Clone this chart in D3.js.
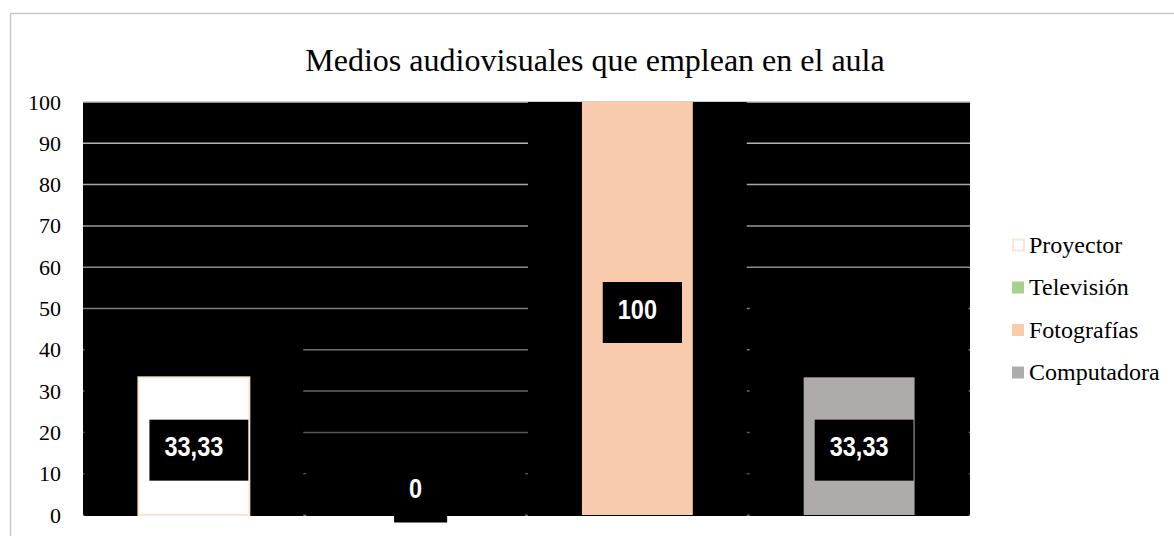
<!DOCTYPE html>
<html lang="es">
<head>
<meta charset="UTF-8">
<title>Medios audiovisuales que emplean en el aula</title>
<style>
  html, body { margin: 0; padding: 0; background: #ffffff; }
  svg { display: block; }
</style>
</head>
<body>
<script src="https://d3js.org/d3.v7.min.js"></script>
<div id="grafico"></div>
<script>
// datos del grafico
const titulo = "Medios audiovisuales que emplean en el aula";
const series = ["Proyector", "Televisión", "Fotografías", "Computadora"];
const valores = [33.33, 0, 100, 33.33];
const etiquetas = ["33,33", "0", "100", "33,33"];
const colores = ["#ffffff", "#a9d18e", "#f8cbad", "#afabab"];
// alto (en unidades del eje) del fondo negro de cada etiqueta, que tapa la rejilla
const fondoEtiqueta = [45, 15, 100, 55];
const ticksY = [0, 10, 20, 30, 40, 50, 60, 70, 80, 90, 100];

const serif = "'Liberation Serif', 'Times New Roman', serif";

// dimensiones
const W = 1174, H = 536;
const margin = {top: 102, right: 204, bottom: 21, left: 83};
const innerW = W - margin.left - margin.right;
const innerH = H - margin.top - margin.bottom;

const svg = d3.select("#grafico").append("svg")
  .attr("width", W).attr("height", H);

// marco del grafico
svg.append("rect")
  .attr("x", 10.5).attr("y", 13.5)
  .attr("width", 1180).attr("height", 560)
  .attr("fill", "#fff").attr("stroke", "#c9c9c9").attr("stroke-width", 1.5);

// titulo
svg.append("text")
  .attr("x", 595).attr("y", 71)
  .attr("text-anchor", "middle")
  .attr("font-family", serif)
  .attr("font-size", 32)
  .attr("fill", "#000")
  .text(titulo);

const g = svg.append("g").attr("transform", `translate(${margin.left},${margin.top})`);

// escalas
const x = d3.scaleBand().domain(series).range([0, innerW]).paddingInner(0.5).paddingOuter(0.25);
const y = d3.scaleLinear().domain([0, 100]).range([innerH, 0]);
const colorRejilla = d3.scaleLinear().domain([0, 100]).range(["#3c3c3c", "#c0c0c0"]);
const paso = x.step();
const inicioRanura = s => x(s) - paso * 0.25;

// fondo negro del area de trazado
g.append("rect")
  .attr("width", innerW).attr("height", innerH)
  .attr("fill", "#000");

// rejilla
g.selectAll(".rejilla").data(ticksY).enter().append("line")
  .attr("x1", 0).attr("x2", innerW)
  .attr("y1", d => y(d)).attr("y2", d => y(d))
  .attr("stroke", d => colorRejilla(d))
  .attr("stroke-width", 1.5);

// fondos negros de las etiquetas (tapan la rejilla)
g.selectAll(".fondo").data(series).enter().append("rect")
  .attr("x", s => inicioRanura(s) + 1.5)
  .attr("width", paso - 3)
  .attr("y", (s, i) => y(fondoEtiqueta[i]))
  .attr("height", (s, i) => y(0) - y(fondoEtiqueta[i]) + 1)
  .attr("fill", "#000");

// eje Y (solo etiquetas)
const ejeY = g.append("g")
  .call(d3.axisLeft(y).tickValues(ticksY).tickSize(0).tickPadding(22))
  .attr("font-family", serif)
  .attr("font-size", 22);
ejeY.select(".domain").remove();
ejeY.selectAll("text").attr("fill", "#000");

// barras
g.selectAll(".barra").data(series).enter().append("rect")
  .attr("x", s => x(s))
  .attr("width", x.bandwidth())
  .attr("y", (s, i) => y(valores[i]))
  .attr("height", (s, i) => y(0) - y(valores[i]))
  .attr("fill", (s, i) => colores[i])
  .attr("stroke", (s, i) => i === 0 ? "#fbe5d6" : "none")
  .attr("stroke-width", 2);

// etiquetas de datos
const escalaX = 0.84;
const etq = g.selectAll(".etq").data(series).enter().append("g")
  .attr("transform", (s, i) => {
    const cy = Math.min(y(valores[i] / 2), y(0) - 27);
    return `translate(${x(s) + x.bandwidth() / 2},${cy})`;
  });
const cajas = etq.append("rect").attr("fill", "#000");
const textos = etq.append("text")
  .attr("text-anchor", "middle")
  .attr("dy", "0.36em")
  .attr("transform", `scale(${escalaX},1)`)
  .attr("font-family", "'Liberation Sans', Arial, sans-serif")
  .attr("font-weight", "bold")
  .attr("font-size", 28)
  .attr("fill", "#fff")
  .text((s, i) => etiquetas[i]);
textos.each(function(s, i) {
  const w = this.getComputedTextLength() * escalaX + 40;
  d3.select(cajas.nodes()[i])
    .attr("x", -w / 2 + 5).attr("y", -30.5 + 4)
    .attr("width", w).attr("height", 61);
});

// leyenda
const ley = svg.append("g").attr("transform", "translate(1012,245)");
const item = ley.selectAll(".item").data(series).enter().append("g")
  .attr("transform", (s, i) => `translate(0,${i * 42.5})`);
item.append("rect")
  .attr("x", (s, i) => i === 0 ? 1 : 0)
  .attr("y", (s, i) => i === 0 ? -5.5 : -6)
  .attr("width", (s, i) => i === 0 ? 11 : 12)
  .attr("height", (s, i) => i === 0 ? 11 : 12)
  .attr("fill", (s, i) => colores[i])
  .attr("stroke", (s, i) => i === 0 ? "#fbe5d6" : "none")
  .attr("stroke-width", 2);
item.append("text")
  .attr("x", 17).attr("dy", "0.33em")
  .attr("font-family", serif)
  .attr("font-size", 24)
  .attr("fill", "#000")
  .text(s => s);
</script>
</body>
</html>
